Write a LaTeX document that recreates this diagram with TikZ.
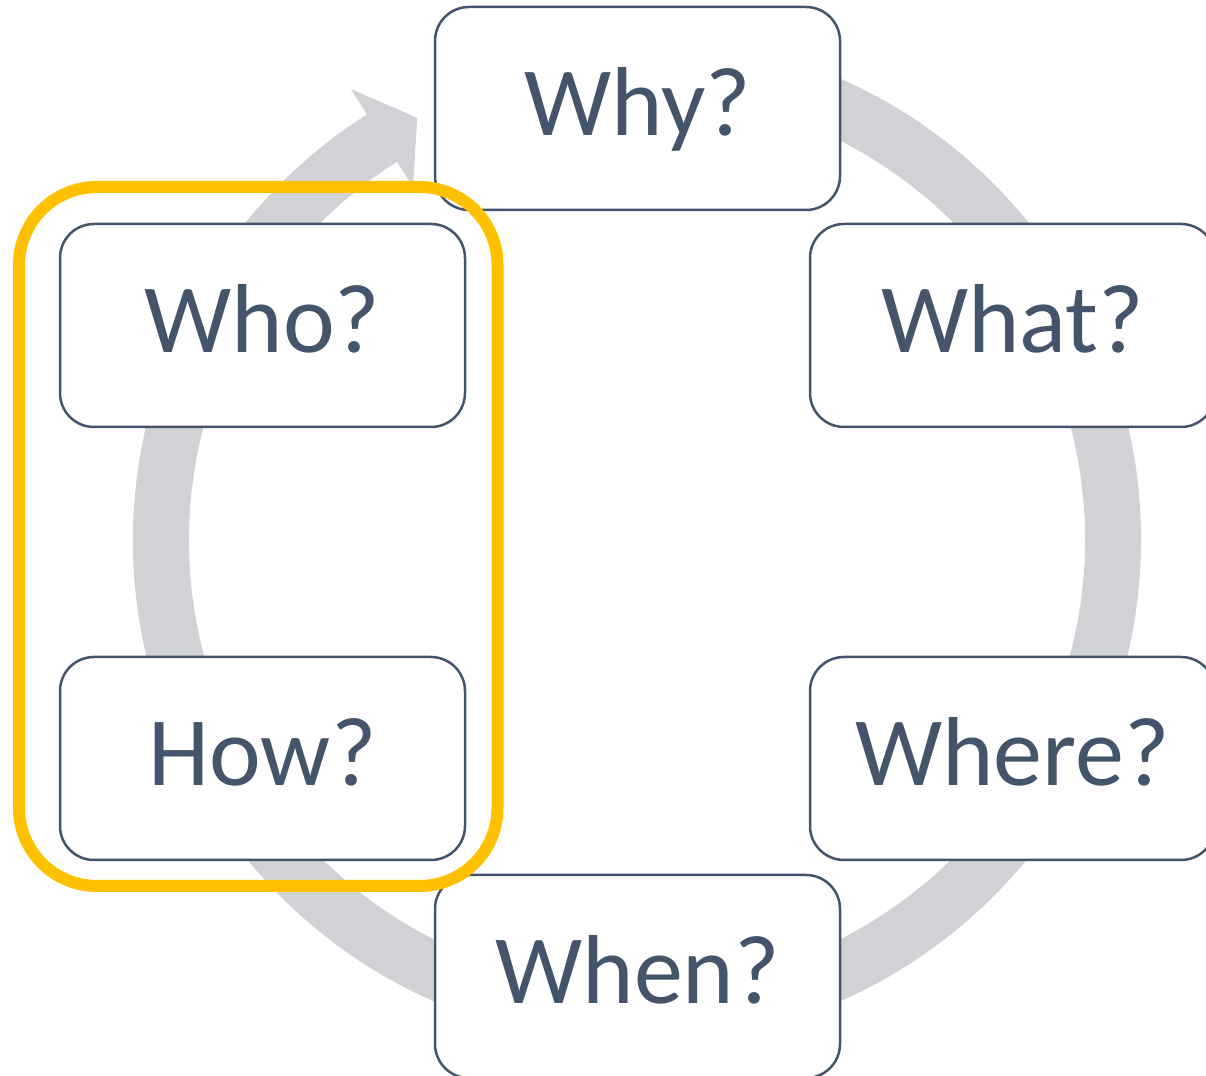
\documentclass[tikz,border=0pt]{standalone}
\usepackage{fontspec}
\setmainfont{Carlito}
\definecolor{slate}{HTML}{44546A}
\definecolor{ringgray}{HTML}{D0D2D6}
\definecolor{hiyellow}{HTML}{FFC000}
\begin{document}
\begin{tikzpicture}[x=1pt,y=1pt,
  qbox/.style={draw=slate, line width=2.5pt, fill=white, rounded corners=34pt,
    minimum width=405pt, minimum height=203pt, inner sep=0pt,
    text=slate, font=\fontsize{98}{110}\selectfont,
    text height=60pt, text depth=6pt},
  hilite/.style={draw=hiyellow, line width=12pt, rounded corners=78pt}]
\useasboundingbox (0,0) rectangle (1206,1075);
\clip (0,0) rectangle (1206,1075);
% circular arrow
\coordinate (C) at (637,535);
\begin{scope}[shift={(C)}]
  \fill[ringgray] (122.4:534) -- (117.5:476) -- (122.4:418) -- (122.4:448)
    arc[start angle=122.4, end angle=440, radius=448pt]
    -- (440:504)
    arc[start angle=440, end angle=122.4, radius=504pt] -- cycle;
\end{scope}
% question boxes
\node[qbox] (why)   at (637.5,966.5)  {Why?};
\node[qbox] (who)   at (262.5,749.5)  {Who?};
\node[qbox] (what)  at (1012.5,749.5) {What?};
\node[qbox] (how)   at (262.5,316.5)  {How?};
\node[qbox] (where) at (1012.5,316.5) {Where?};
\node[qbox] (when)  at (637.5,98.5)   {When?};
% highlight frame
\draw[hilite] (19,189) rectangle (497.5,888);
\end{tikzpicture}
\end{document}
